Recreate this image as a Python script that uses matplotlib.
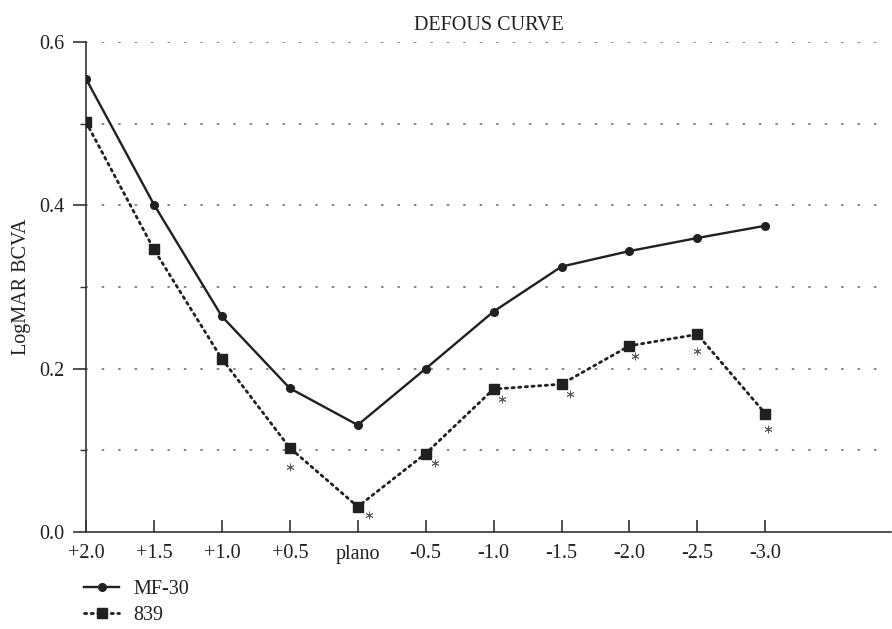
import matplotlib
matplotlib.use("Agg")
import matplotlib.pyplot as plt
import matplotlib.transforms as mtransforms
from matplotlib.ticker import MultipleLocator, FormatStrFormatter

plt.rcParams['font.family'] = ['Liberation Serif', 'DejaVu Serif']

categories = ["+2.0", "+1.5", "+1.0", "+0.5", "plano", "-0.5", "-1.0",
              "-1.5", "-2.0", "-2.5", "-3.0"]
mf30 = [0.555, 0.401, 0.264, 0.176, 0.131, 0.200, 0.270, 0.325, 0.344, 0.360, 0.375]
s839 = [0.502, 0.346, 0.212, 0.103, 0.031, 0.096, 0.175, 0.181, 0.228, 0.242, 0.145]
significant = [False, False, False, True, True, True, True, True, True, True, True]
# star offsets (points) relative to the 839 marker
star_dx = [0, 0, 0, 0, 8, 7, 6, 6, 4, 0, 2]
star_dy = [0, 0, 0, -14, -6, -7, -7, -7, -7, -12, -11]

title = "DEFOUS CURVE"
ylabel = "LogMAR BCVA"

ink = "#231f20"
fs = 14.5
fig = plt.figure(figsize=(8.92, 6.29), dpi=100)
ax = fig.add_axes([86/892, 97/629, (891-86)/892, 490/629])

x = list(range(len(categories)))
ax.plot(x, mf30, color=ink, lw=1.7, marker='o', ms=5.5, label="MF-30", zorder=3)
ax.plot(x, s839, color=ink, lw=2.0, ls=(0, (0.8, 1.6)), dash_capstyle='round',
        marker='s', ms=6.5, label="839", zorder=3)

for i, sig in enumerate(significant):
    if sig:
        off = mtransforms.ScaledTranslation(star_dx[i]/72, star_dy[i]/72,
                                            fig.dpi_scale_trans)
        ax.plot([x[i]], [s839[i]], ls='none', marker=(6, 2, 0), ms=5.5,
                mew=0.6, color="#5a5a5a", transform=ax.transData + off, zorder=4)

ax.set_xlim(0, 11.85)
ax.set_ylim(0, 0.6)
ax.set_xticks(x)
ax.set_xticklabels(categories)
ax.yaxis.set_major_locator(MultipleLocator(0.2))
ax.yaxis.set_minor_locator(MultipleLocator(0.1))
ax.yaxis.set_major_formatter(FormatStrFormatter('%.1f'))

for yv in [0.1, 0.2, 0.3, 0.4, 0.5, 0.6]:
    ax.axhline(yv, color="#777777", lw=1.3, ls=(0, (0.6, 8.5)),
               dash_capstyle='round', zorder=1)

for s in ['top', 'right']:
    ax.spines[s].set_visible(False)
for s in ['left', 'bottom']:
    ax.spines[s].set_color("#333333")
    ax.spines[s].set_linewidth(1.2)

ax.tick_params(axis='y', which='major', direction='out', length=9.5, width=1.2,
               color="#333333", labelsize=fs, labelcolor=ink, pad=6)
ax.tick_params(axis='y', which='minor', direction='out', length=4.5, width=1.0,
               color="#333333")
ax.tick_params(axis='x', direction='in', length=9, width=1.2, color="#333333",
               labelsize=fs, labelcolor=ink, pad=9)

ax.set_title(title, fontsize=fs, color=ink, pad=9)
ax.set_ylabel(ylabel, fontsize=fs, color=ink, labelpad=6)

leg = fig.legend(loc='upper left', bbox_to_anchor=(84/892, 1 - 580/629),
                 frameon=False, fontsize=fs, handlelength=1.75,
                 handletextpad=0.7, labelspacing=0.32, borderpad=0,
                 borderaxespad=0)
for t in leg.get_texts():
    t.set_color(ink)

fig.savefig("out.png", dpi=100)
